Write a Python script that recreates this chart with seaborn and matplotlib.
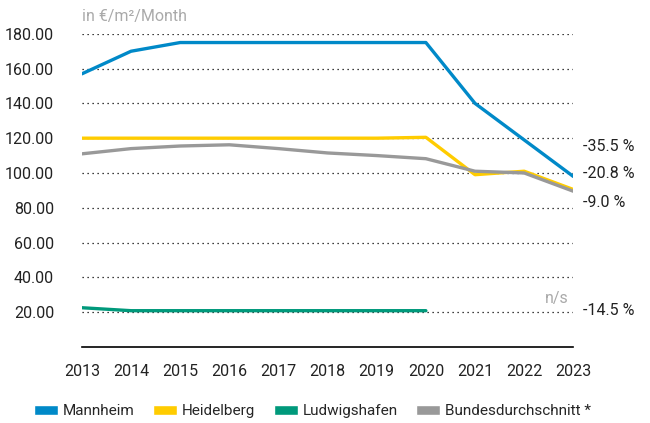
import matplotlib
matplotlib.use("Agg")
import matplotlib.pyplot as plt
import seaborn as sns
import pandas as pd
import numpy as np
from matplotlib.patches import Patch

years = [2013, 2014, 2015, 2016, 2017, 2018, 2019, 2020, 2021, 2022, 2023]
mannheim = [157, 170, 175, 175, 175, 175, 175, 175, 140, 119, 98]
heidelberg = [120, 120, 120, 120, 120, 120, 120, 120.5, 99, 101, 90.5]
ludwigshafen = [22.5, 20.8, 20.8, 20.8, 20.8, 20.8, 20.8, 20.8, np.nan, np.nan, np.nan]
bund = [111, 114, 115.5, 116.2, 114, 111.5, 110, 108.2, 101, 100, 89.5]

series = ["Mannheim", "Heidelberg", "Ludwigshafen", "Bundesdurchschnitt *"]
colors = ["#0089c8", "#ffcc00", "#00997b", "#999999"]
changes = ["-35.5 %", "-20.8 %", "-9.0 %", "-14.5 %"]
change_y = [115, 99.5, 83, 21]

sns.set_style("white")
plt.rcParams['font.family'] = ['Roboto', 'DejaVu Sans']

df = pd.DataFrame({"year": years * 4,
                   "value": mannheim + heidelberg + ludwigshafen + bund,
                   "city": sum([[s] * len(years) for s in series], [])})

fig = plt.figure(figsize=(6.5, 4.23), dpi=100)
ax = fig.add_axes([0.126, 0.18, 0.756, 0.74])

for y in range(20, 181, 20):
    ax.axhline(y, color="black", lw=0.9, ls=(0, (1, 3)), zorder=0)

sns.lineplot(data=df, x="year", y="value", hue="city", palette=colors,
             hue_order=series, linewidth=2.4, legend=False, ax=ax)

ax.set_xlim(2013, 2023)
ax.set_ylim(0, 180)
ax.set_xticks(years)
ax.set_xticklabels([str(y) for y in years], fontsize=11.5, color="#222222")
ax.set_yticks(range(20, 181, 20))
ax.set_yticklabels(["%.2f" % v for v in range(20, 181, 20)], fontsize=11.5, color="#222222")
ax.tick_params(axis="x", length=0, pad=12)
ax.tick_params(axis="y", length=0, pad=20)
ax.set_xlabel("")
ax.set_ylabel("")
for s in ["top", "left", "right"]:
    ax.spines[s].set_visible(False)
ax.spines["bottom"].set_color("black")
ax.spines["bottom"].set_linewidth(1.2)

ax.text(0.0, 1.03, "in €/m²/Month", transform=ax.transAxes, fontsize=11.5,
        color="#aaaaaa", va="bottom", ha="left")
ax.text(2022.9, 23.5, "n/s", fontsize=11.5, color="#aaaaaa", ha="right", va="bottom")

for lab, yy in zip(changes, change_y):
    ax.text(2023.2, yy, lab, fontsize=11.5, color="#222222", va="center", ha="left",
            clip_on=False)

handles = [Patch(facecolor=c, label=s) for c, s in zip(colors, series)]
fig.legend(handles=handles, loc="center left", bbox_to_anchor=(0.052, 0.028), ncol=4,
           frameon=False, fontsize=11, handlelength=1.6, handleheight=0.6,
           handletextpad=0.3, columnspacing=1.2, borderaxespad=0, borderpad=0)

fig.savefig("out.png", dpi=100)
